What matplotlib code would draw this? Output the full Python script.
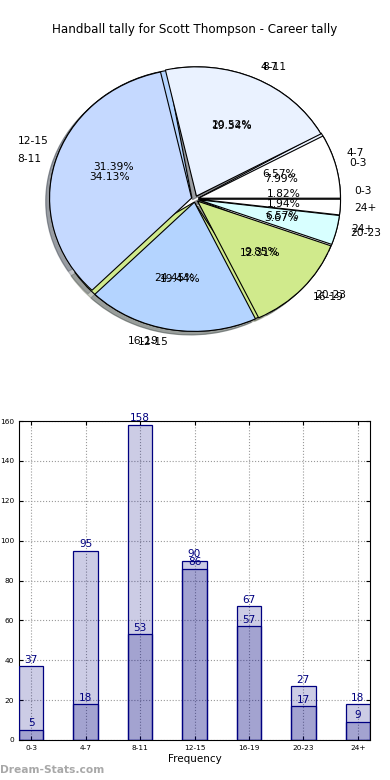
import matplotlib
matplotlib.use("Agg")
from matplotlib import pyplot as plt

# Categories (goals per game buckets)
categories = ['0-3', '4-7', '8-11', '12-15', '16-19', '20-23', '24+']

# Pie series (two pies drawn over each other)
pie_under = [5, 18, 53, 86, 67, 27, 18]
pie_over = [37, 95, 158, 90, 57, 17, 9]

# Bar series
bar_total = [37, 95, 158, 90, 67, 27, 18]
bar_part = [5, 18, 53, 86, 57, 17, 9]

pie_colors = ['#ffffff', '#eaf2ff', '#c5d9ff', '#b4d4ff', '#d0ea8c', '#d8ffff', '#ffffff']

fig = plt.figure(figsize=(3.9, 7.8), dpi=100)

# Title
fig.text(0.5, 1 - 30 / 780, 'Handball tally for Scott Thompson - Career tally',
         ha='center', va='center', fontsize=8.6)

# Pie chart
ax1 = fig.add_axes([17.5 / 390, 419.5 / 780, 355 / 390, 323 / 780])
explode = [0.025] * len(categories)
for vals in (pie_under, pie_over):
    ax1.pie(vals, labels=categories, colors=pie_colors, explode=explode,
            autopct='%1.2f%%', shadow={'alpha': 0.3}, startangle=0,
            wedgeprops=dict(edgecolor='black', linewidth=0.8),
            textprops=dict(fontsize=7.7))
ax1.set_aspect('auto')
ax1.set_xlim(-1.25, 1.25)
ax1.set_ylim(-1.25, 1.25)
ax1.axis('off')

# Bar chart
ax2 = fig.add_axes([19 / 390, 40 / 780, 351 / 390, 319 / 780])
x = list(range(len(categories)))
w = 0.45
face = (0, 0, 0.5, 0.2)
ax2.bar(x, bar_total, width=w, color=face, edgecolor='navy', linewidth=0.9, zorder=3)
ax2.bar(x, bar_part, width=w, color=face, edgecolor='navy', linewidth=0.9, zorder=3)
for xi, v in zip(x, bar_total):
    ax2.text(xi, v + 0.8, str(v), ha='center', va='bottom', color='navy', fontsize=7.6, zorder=4)
for xi, v in zip(x, bar_part):
    ax2.text(xi, v + 0.8, str(v), ha='center', va='bottom', color='navy', fontsize=7.6, zorder=4)

ax2.set_xlim(-w / 2, len(categories) - 1 + w / 2)
ax2.set_ylim(0, 160)
ax2.set_yticks(range(0, 161, 20))
ax2.set_xticks(x)
ax2.set_xticklabels(categories)
ax2.tick_params(axis='both', labelsize=5.3, direction='in', length=3, top=True, right=True)
ax2.grid(True, linestyle=':', color='#999999', linewidth=0.8, zorder=0)
ax2.set_xlabel('Frequency', fontsize=7.5, labelpad=2)

# Watermark
fig.text(0.0, 1 - 770 / 780, 'Dream-Stats.com', ha='left', va='center',
         fontsize=7.7, color='#a8a8a8', fontweight='bold')

fig.savefig('out.png', dpi=100)
